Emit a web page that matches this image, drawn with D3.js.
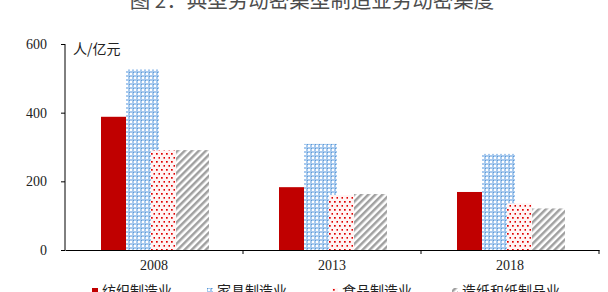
<!DOCTYPE html>
<html>
<head>
<meta charset="utf-8">
<script src="https://cdn.jsdelivr.net/npm/d3@7"></script>
<style>
  body { margin: 0; background: #fff; }
  svg { display: block; }
</style>
</head>
<body>
<div id="chart"></div>
<script>
// data
const years = ["2008", "2013", "2018"];
const seriesNames = ["纺织制造业", "家具制造业", "食品制造业", "造纸和纸制品业"];
const textile = [388, 183, 169];
const furniture = [526, 309, 280];
const food = [290, 160, 136];
const paper = [291, 163, 121];
const yTicks = [0, 200, 400, 600];

const width = 608;
const height = 292;

const svg = d3.select("#chart").append("svg")
  .attr("width", width)
  .attr("height", height);

// fill patterns (Excel-like)
const defs = svg.append("defs");

const pBlue = defs.append("pattern").attr("id", "pBlue")
  .attr("patternUnits", "userSpaceOnUse").attr("width", 4).attr("height", 4);
pBlue.append("rect").attr("width", 4).attr("height", 4).attr("fill", "#a7c9ee");
pBlue.append("rect").attr("x", 1).attr("y", 1).attr("width", 2).attr("height", 2).attr("fill", "#ffffff");
pBlue.append("rect").attr("x", 0).attr("y", 0).attr("width", 1).attr("height", 1).attr("fill", "#5b9bd5");

const pDots = defs.append("pattern").attr("id", "pDots")
  .attr("patternUnits", "userSpaceOnUse").attr("width", 5).attr("height", 8);
pDots.append("rect").attr("width", 5).attr("height", 8).attr("fill", "#fff4f4");
pDots.append("rect").attr("x", 1).attr("y", 1).attr("width", 1.7).attr("height", 1.7).attr("fill", "#e00000");
pDots.append("rect").attr("x", 3.5).attr("y", 5).attr("width", 1.7).attr("height", 1.7).attr("fill", "#e00000");

const pStripe = defs.append("pattern").attr("id", "pStripe")
  .attr("patternUnits", "userSpaceOnUse").attr("width", 5).attr("height", 5)
  .attr("patternTransform", "rotate(45)");
pStripe.append("rect").attr("width", 5).attr("height", 5).attr("fill", "#ffffff");
pStripe.append("rect").attr("width", 2.5).attr("height", 5).attr("fill", "#a0a0a0");

const fills = ["#c00000", "url(#pBlue)", "url(#pDots)", "url(#pStripe)"];
// patterned bars in the reference spill a little wider than their slot
const extra = [0, 8, 0, 8];

const series = [textile, furniture, food, paper];

// scales
const x0 = d3.scaleBand().domain(years).range([65, 599]);
const x1 = d3.scaleBand().domain(d3.range(seriesNames.length))
  .range([x0.bandwidth() / 2 - 53, x0.bandwidth() / 2 + 47]);
const y = d3.scaleLinear().domain([0, 600]).range([250, 44]);

// title (clipped at the top like the reference)
svg.append("text")
  .attr("x", 312)
  .attr("y", 8)
  .attr("text-anchor", "middle")
  .style("font-family", "'Noto Sans CJK SC', sans-serif")
  .style("font-size", "20.5px")
  .style("fill", "#4d4d4d")
  .text("图 2：典型劳动密集型制造业劳动密集度");

// bars
const groups = svg.selectAll(".grp")
  .data(years)
  .enter()
  .append("g")
  .attr("class", "grp")
  .attr("transform", (d) => `translate(${x0(d)},0)`);

groups.selectAll("rect")
  .data((d, i) => series.map((s, k) => ({ k, v: s[i] })))
  .enter()
  .append("rect")
  .attr("x", (d) => x1(d.k))
  .attr("y", (d) => y(d.v))
  .attr("width", (d) => x1.bandwidth() + extra[d.k])
  .attr("height", (d) => y(0) - y(d.v))
  .attr("fill", (d) => fills[d.k]);

// y axis
const yAxis = svg.append("g")
  .attr("transform", "translate(65,0)")
  .call(d3.axisLeft(y).tickValues(yTicks).tickSize(4).tickPadding(14));
yAxis.select(".domain").attr("stroke", "#000").attr("d", "M0,44V250");
yAxis.selectAll(".tick line").attr("stroke", "#000");
yAxis.selectAll("text")
  .style("font-family", "'Liberation Serif', serif")
  .style("font-size", "14px")
  .style("fill", "#222");

// x axis
const xAxis = svg.append("g")
  .attr("transform", "translate(0,250)")
  .call(d3.axisBottom(x0).tickSize(0).tickPadding(10.5));
xAxis.select(".domain").attr("stroke", "#000");
xAxis.selectAll("text")
  .style("font-family", "'Liberation Serif', serif")
  .style("font-size", "14px")
  .style("fill", "#222");
xAxis.selectAll(".bnd")
  .data(years)
  .enter()
  .append("line")
  .attr("class", "bnd")
  .attr("x1", (d) => x0(d) + x0.bandwidth())
  .attr("x2", (d) => x0(d) + x0.bandwidth())
  .attr("y1", 0)
  .attr("y2", 4)
  .attr("stroke", "#000");

// unit label
svg.append("text")
  .attr("x", 73)
  .attr("y", 54)
  .style("font-family", "'Noto Sans CJK SC', sans-serif")
  .style("font-size", "14px")
  .style("fill", "#222")
  .text("人/亿元");

// legend (cut at the bottom like the reference)
const legendX = [92, 207, 332, 452];
const legend = svg.selectAll(".leg")
  .data(seriesNames)
  .enter()
  .append("g")
  .attr("class", "leg")
  .attr("transform", (d, i) => `translate(${legendX[i]},0)`);
legend.append("rect")
  .attr("x", 0)
  .attr("y", 288)
  .attr("width", 6)
  .attr("height", 6)
  .attr("fill", (d, i) => fills[i]);
legend.append("text")
  .attr("x", 10)
  .attr("y", 296)
  .style("font-family", "'Noto Sans CJK SC', sans-serif")
  .style("font-size", "14px")
  .style("fill", "#222")
  .text((d) => d);
</script>
</body>
</html>
